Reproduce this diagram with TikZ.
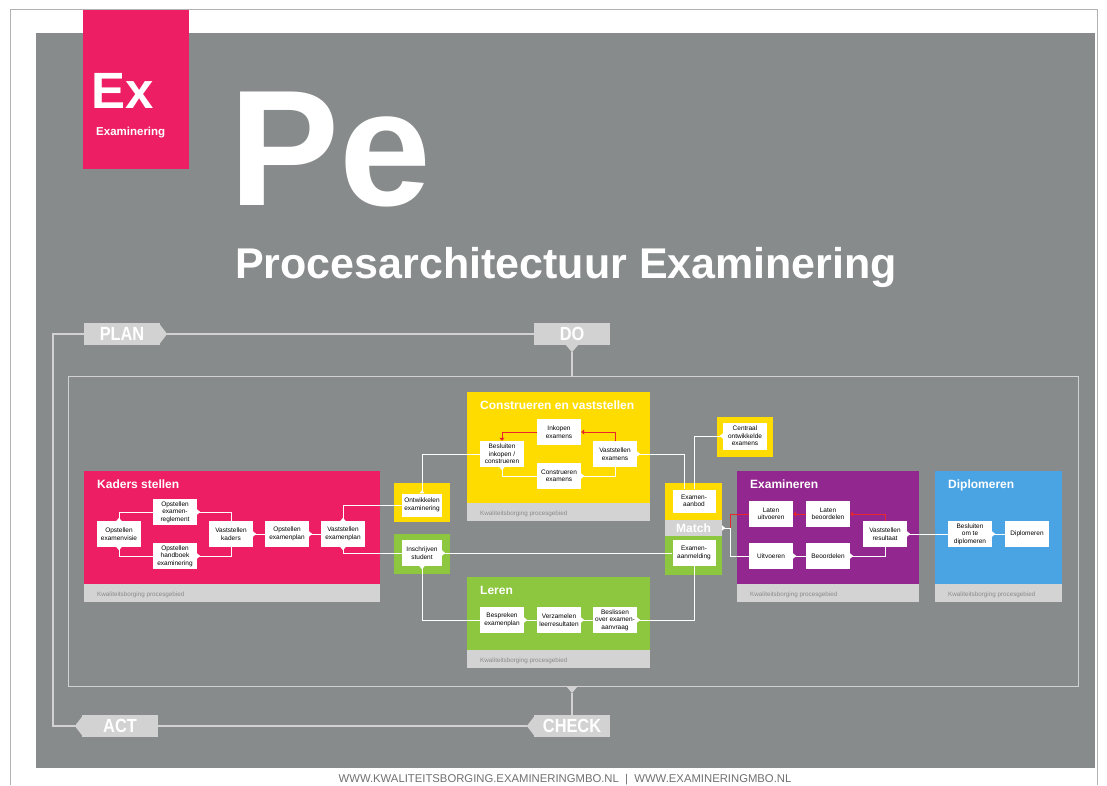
\documentclass[tikz,border=0pt]{standalone}
\usepackage{fontspec}
\setmainfont{Liberation Sans}
\newfontfamily\pdcafont[FakeStretch=0.86]{Liberation Sans}
\usetikzlibrary{arrows.meta}

\definecolor{panelgray}{HTML}{888B8B}
\definecolor{loopgray}{HTML}{D2D2D2}
\definecolor{footgray}{HTML}{D3D3D3}
\definecolor{foottext}{HTML}{8A8A8A}
\definecolor{sitetext}{HTML}{707070}
\definecolor{expink}{HTML}{EE1E64}
\definecolor{exyellow}{HTML}{FFDC00}
\definecolor{exgreen}{HTML}{8DC63F}
\definecolor{expurple}{HTML}{92278F}
\definecolor{exblue}{HTML}{4AA3E2}
\definecolor{exred}{HTML}{E8262C}

\begin{document}
\begin{tikzpicture}[x=1pt,y=-1pt,
    nub/.tip={Triangle[reversed,width=5pt,length=3pt]},
    wbox/.style={fill=white, minimum width=44pt, minimum height=26pt, inner sep=1pt,
        align=center, font=\fontsize{6.5}{7.5}\selectfont},
    flow/.style={draw=white, line width=1pt, nub-},
    back/.style={draw=exred, line width=1pt, -{Triangle[width=5pt,length=3pt]}},
    pdca/.style={fill=loopgray, text=white, minimum width=76pt, minimum height=22pt,
        inner sep=0pt, font=\pdcafont\bfseries\fontsize{19}{19}\selectfont},
    loopline/.style={draw=loopgray, line width=1.4pt},
    areatitle/.style={anchor=base west, inner sep=0pt, text=white,
        font=\bfseries\fontsize{12}{12}\selectfont},
    kwal/.style={anchor=base west, inner sep=0pt, text=foottext,
        font=\fontsize{6.3}{6.3}\selectfont}]

    % Page and grey panel
    \useasboundingbox (0,0) rectangle (1107,785);
    \fill[white] (0,0) rectangle (1107,785);
    \draw[gray!60, line width=0.6pt] (10,785) -- (10,9) -- (1097,9) -- (1097,785);
    \fill[panelgray] (36,33) rectangle (1095,768);

    % Ex tile
    \fill[expink] (83,10) rectangle (189,169);
    \node[anchor=base west, inner sep=0pt, text=white, font=\bfseries\fontsize{51}{51}\selectfont] (ex) at (91,108) {Ex};
    \node[anchor=base west, inner sep=0pt, text=white, font=\bfseries\fontsize{11.5}{11.5}\selectfont] (exname) at (96,135) {Examinering};

    % Headings
    \node[anchor=base west, inner sep=0pt, text=white, font=\bfseries\fontsize{165}{165}\selectfont] (pe) at (229,205) {Pe};
    \node[anchor=base west, inner sep=0pt, text=white, font=\bfseries\fontsize{43}{43}\selectfont] (heading) at (235,278) {Procesarchitectuur Examinering};

    %% PDCA loop

    % Labels
    \node[pdca] (plan) at (122,334) {PLAN};
    \node[pdca] (do) at (572,334) {DO};
    \node[pdca] (check) at (572,726) {CHECK};
    \node[pdca] (act) at (120,726) {ACT};

    % Pointers
    \fill[loopgray] (plan.east) ++(0,-9) -- ++(7,9) -- ++(-7,9) -- cycle;
    \fill[loopgray] (do.south) ++(-6,0) -- ++(6,7) -- ++(6,-7) -- cycle;
    \fill[loopgray] (check.west) ++(0,-9) -- ++(-7,9) -- ++(7,9) -- cycle;
    \fill[loopgray] (act.west) ++(0,-9) -- ++(-7,9) -- ++(7,9) -- cycle;
    \fill[loopgray] (566,686) -- (578,686) -- (572,693) -- cycle;
    \coordinate (plantip) at ([xshift=7pt]plan.east);
    \coordinate (dotip) at ([yshift=-7pt]do.south);
    \coordinate (checktip) at ([xshift=-7pt]check.west);
    \coordinate (acttip) at ([xshift=-7pt]act.west);

    % Loop lines
    \draw[loopline] (plantip) -- (do.west);
    \draw[loopline] (dotip) -- (572,376);
    \draw[loopline, line width=1pt] (68,376) rectangle (1078,686);
    \draw[loopline] (572,693) -- (check.north);
    \draw[loopline] (checktip) -- (act.east);
    \draw[loopline] (acttip) -- ++(-22,0) |- (plan.west);

    %% Process areas

    % Kaders stellen
    \fill[expink] (84,471) rectangle (380,584);
    \fill[footgray] (84,584) rectangle (380,602);
    \node[areatitle] (kaderstitle) at (97,488) {Kaders stellen};
    \node[kwal] (kaderskwal) at (97,596) {Kwaliteitsborging procesgebied};

    % Construeren en vaststellen
    \fill[exyellow] (467,392) rectangle (650,503);
    \fill[footgray] (467,503) rectangle (650,521);
    \node[areatitle] (constrtitle) at (480,409) {Construeren en vaststellen};
    \node[kwal] (constrkwal) at (480,515) {Kwaliteitsborging procesgebied};

    % Leren
    \fill[exgreen] (467,577) rectangle (650,650);
    \fill[footgray] (467,650) rectangle (650,668);
    \node[areatitle] (lerentitle) at (480,594) {Leren};
    \node[kwal] (lerenkwal) at (480,662) {Kwaliteitsborging procesgebied};

    % Examineren
    \fill[expurple] (737,471) rectangle (919,584);
    \fill[footgray] (737,584) rectangle (919,602);
    \node[areatitle] (examtitle) at (750,488) {Examineren};
    \node[kwal] (examkwal) at (750,596) {Kwaliteitsborging procesgebied};

    % Diplomeren
    \fill[exblue] (935,471) rectangle (1062,584);
    \fill[footgray] (935,584) rectangle (1062,602);
    \node[areatitle] (diptitle) at (948,488) {Diplomeren};
    \node[kwal] (dipkwal) at (948,596) {Kwaliteitsborging procesgebied};

    % Loose frames
    \fill[exyellow] (394,483) rectangle (450,522);
    \fill[exgreen] (394,534) rectangle (450,574);
    \fill[exyellow] (717,417) rectangle (773,457);
    \fill[exyellow] (665,483) rectangle (722,520);
    \fill[exgreen] (665,536) rectangle (722,575);

    %% Steps

    % Kaders stellen
    \node[wbox] (visie) at (119,534) {Opstellen\\examenvisie};
    \node[wbox] (regl) at (175,512) {Opstellen\\examen-\\reglement};
    \node[wbox] (handb) at (175,556) {Opstellen\\handboek\\examinering};
    \node[wbox] (vkaders) at (231,534) {Vaststellen\\kaders};
    \node[wbox] (oplan) at (287,534) {Opstellen\\examenplan};
    \node[wbox] (vplan) at (343,534) {Vaststellen\\examenplan};

    % Between the areas
    \node[wbox, minimum width=40pt, minimum height=23pt] (ontw) at (422,505) {Ontwikkelen\\examinering};
    \node[wbox, minimum width=40pt, minimum height=26pt] (inschr) at (422,553) {Inschrijven\\student};
    \node[wbox, minimum width=44pt, minimum height=27pt] (centr) at (745,436) {Centraal\\ontwikkelde\\examens};
    \node[wbox, minimum width=43pt, minimum height=23pt] (aanbod) at (694,501) {Examen-\\aanbod};
    \node[fill=footgray, text=white, minimum width=57pt, minimum height=16pt, inner sep=0pt,
        font=\bfseries\fontsize{12}{12}\selectfont] (match) at (693.5,528) {Match};
    \node[wbox, minimum width=43pt, minimum height=26pt] (aanm) at (694,553) {Examen-\\aanmelding};

    % Construeren en vaststellen
    \node[wbox] (besl) at (502,454) {Besluiten\\inkopen /\\construeren};
    \node[wbox] (inkop) at (559,432) {Inkopen\\examens};
    \node[wbox] (vexam) at (615,454) {Vaststellen\\examens};
    \node[wbox] (constr) at (559,476) {Construeren\\examens};

    % Leren
    \node[wbox] (bespr) at (502,620) {Bespreken\\examenplan};
    \node[wbox] (verz) at (559,620) {Verzamelen\\leerresultaten};
    \node[wbox] (besliss) at (615,620) {Beslissen\\over examen-\\aanvraag};

    % Examineren
    \node[wbox] (luitv) at (771,514) {Laten\\uitvoeren};
    \node[wbox] (lbeoor) at (828,514) {Laten\\beoordelen};
    \node[wbox] (vres) at (885,534) {Vaststellen\\resultaat};
    \node[wbox] (uitv) at (771,556) {Uitvoeren};
    \node[wbox] (beoor) at (828,556) {Beoordelen};

    % Diplomeren
    \node[wbox] (dbesl) at (970,534) {Besluiten\\om te\\diplomeren};
    \node[wbox] (dipl) at (1027,534) {Diplomeren};

    %% Connectors
    \coordinate (split) at (730,528);

    \draw[flow] (visie.north) |- (regl.west);
    \draw[flow] (visie.south) |- (handb.west);
    \draw[flow] (regl.east) -| (vkaders.north);
    \draw[flow] (handb.east) -| (vkaders.south);
    \draw[flow] (vkaders) -- (oplan);
    \draw[flow] (oplan) -- (vplan);
    \draw[flow] (vplan.north) |- (ontw.west);
    \draw[flow] (vplan.south) |- (inschr.west);

    \draw[flow] (ontw.north) |- (besl.west);
    \draw[flow] (besl.south) |- (constr.west);
    \draw[flow] (constr.east) -| (vexam.south);
    \draw[back] (vexam.north) |- (inkop.east);
    \draw[back] (inkop.west) -| (besl.north);
    \draw[flow] (vexam.east) -| ([xshift=-10pt]aanbod.north);
    \draw[flow] (centr.west) -| (aanbod.north);

    \draw[flow] (inschr.east) -- (aanm.west);
    \draw[flow] (inschr.south) |- (bespr.west);
    \draw[flow] (bespr) -- (verz);
    \draw[flow] (verz) -- (besliss);
    \draw[flow] (besliss.east) -| (aanm.south);

    \draw[flow] (match.east) -- (split) |- (uitv.west);
    \draw[flow] (uitv) -- (beoor);
    \draw[flow] (beoor.east) -| (vres.south);
    \draw[back] (vres.north) |- (lbeoor.east);
    \draw[back] (lbeoor.west) -- (luitv.east);
    \draw[exred, line width=1pt] (luitv.west) -| (split);

    \draw[flow] (vres.east) -- (dbesl.west);
    \draw[flow] (dbesl) -- (dipl);

    % Web addresses
    \node[anchor=base, inner sep=0pt, text=sitetext, font=\fontsize{11.3}{11.3}\selectfont] (site) at (565,782)
        {WWW.KWALITEITSBORGING.EXAMINERINGMBO.NL \ \textbar\ \ WWW.EXAMINERINGMBO.NL};

\end{tikzpicture}
\end{document}
